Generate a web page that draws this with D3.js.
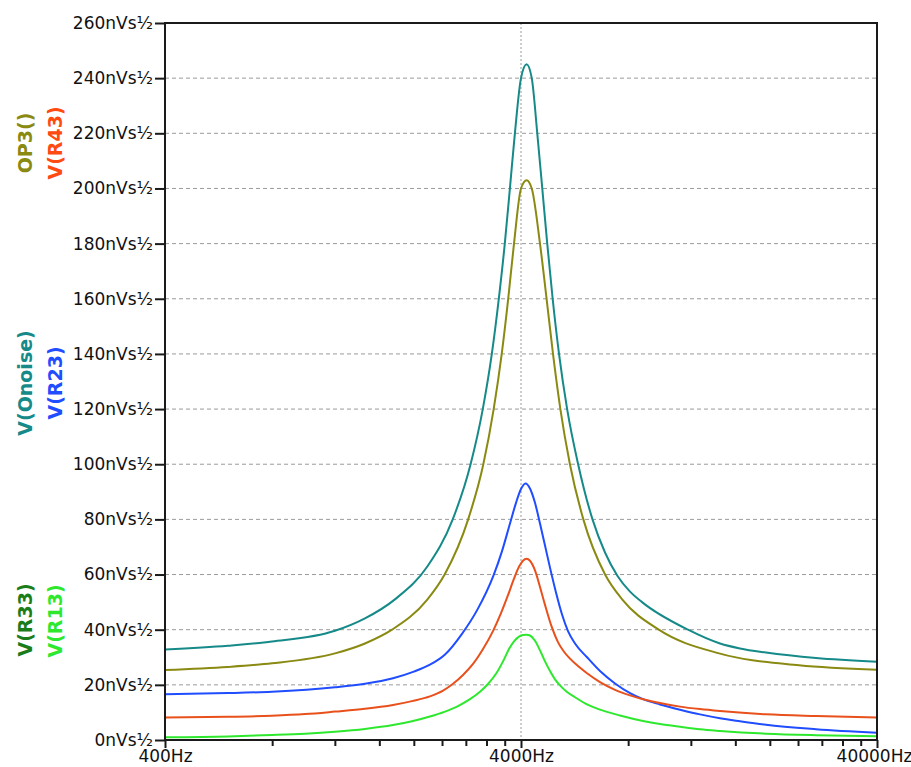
<!DOCTYPE html>
<html>
<head>
<meta charset="utf-8">
<script src="https://cdn.jsdelivr.net/npm/d3@7"></script>
<style>
  html, body { margin: 0; padding: 0; background: #fff; }
  svg { display: block; }
</style>
</head>
<body>
<svg id="chart" width="911" height="767"></svg>
<script>
// ---- data: frequency (Hz) / noise density (nV/√Hz) ----
const fOnoise = [400, 601, 799, 1201, 1458, 1770, 2185, 2572, 2887, 3124, 3312, 3465, 3602, 3723, 3845, 4000, 4148, 4288, 4444, 4590, 4740, 4909, 5115, 5391, 5788, 6352, 6887, 7468, 8097, 8751, 11780, 14490, 16490, 19508, 26960, 40000];
const vOnoise = [32.8, 34.2, 35.7, 39.6, 44.1, 51, 63, 80, 100, 120, 140, 160, 180, 200, 220, 240, 245, 240, 220, 200, 180, 160, 140, 120, 100, 80, 68, 59.5, 53.8, 50, 40, 35, 33.2, 31.7, 29.7, 28.4];

const fOP3 = [400, 601, 799, 1201, 1458, 1737, 2179, 2441, 2842, 3135, 3352, 3531, 3682, 3823, 4000, 4148, 4288, 4523, 4720, 4920, 5160, 5489, 5987, 6891, 7716, 9751, 14410, 24150, 40000];
const vOP3 = [25.4, 26.5, 27.8, 31.4, 35, 40, 50.8, 60, 80, 100, 120, 140, 160, 180, 200, 203, 200, 180, 160, 140, 120, 100, 80, 60, 50.8, 40, 31.4, 27.1, 25.5];

const fR23 = [400, 601, 799, 1201, 1458, 1748, 2000, 2220, 2447, 2731, 3009, 3345, 3538, 3725, 3873, 4000, 4118, 4239, 4379, 4523, 4672, 4825, 5016, 5216, 5421, 5673, 6131, 6668, 7348, 8097, 8808, 9829, 11189, 12733, 14490, 16490, 19508, 26960, 40000];
const vR23 = [16.6, 17.0, 17.5, 19.1, 20.4, 22.4, 24.8, 27.3, 31, 38.5, 47, 59.5, 68.5, 78.5, 86, 91, 93, 91.2, 86, 78.5, 70.5, 62.5, 53.5, 45.5, 39.5, 35, 30, 25, 20.5, 17.0, 14.8, 12.9, 11.0, 9.3, 7.9, 6.8, 5.5, 3.9, 2.6];

const fR43 = [400, 601, 799, 990, 1201, 1458, 1748, 1976, 2220, 2416, 2577, 2749, 2933, 3129, 3337, 3515, 3677, 3823, 3948, 4052, 4145, 4239, 4379, 4523, 4672, 4880, 5080, 5283, 5492, 5784, 6131, 6668, 7348, 8097, 8808, 9829, 11189, 12733, 14490, 19508, 26960, 40000];
const vR43 = [8.2, 8.4, 8.8, 9.4, 10.3, 11.3, 12.7, 14.1, 15.8, 17.9, 20.4, 23.6, 27.6, 33, 39.5, 46, 52.5, 58.5, 62.8, 65, 65.7, 65, 61.5, 55.5, 49, 41, 35.5, 32, 29.5, 26.8, 24.2, 21, 18.2, 16.2, 14.8, 13.4, 12.1, 11.2, 10.5, 9.3, 8.7, 8.2];

const fR13 = [400, 601, 799, 990, 1201, 1458, 1748, 1976, 2220, 2447, 2661, 2876, 3068, 3231, 3403, 3561, 3701, 3823, 3948, 4052, 4145, 4239, 4379, 4523, 4672, 4825, 4984, 5147, 5387, 5673, 6131, 6668, 7588, 8808, 9829, 11189, 12733, 14490, 19508, 26960, 40000];
const vR13 = [1.0, 1.3, 1.8, 2.3, 3.0, 4.0, 5.4, 6.8, 8.5, 10.3, 12.3, 14.8, 17.5, 20.3, 24, 28.5, 33, 35.8, 37.5, 38.1, 38.2, 37.9, 36, 32.5, 28.5, 25, 22, 19.8, 17.4, 15.5, 12.9, 11.0, 8.9, 6.9, 5.8, 4.8, 3.9, 3.3, 2.3, 1.75, 1.4];

const seriesFreqs  = [fOnoise, fOP3, fR23, fR43, fR13];
const seriesValues = [vOnoise, vOP3, vR23, vR43, vR13];
const seriesColors = ["#158a88", "#8a8a12", "#1f4dff", "#e8501c", "#2ee82e"];

const yTicks = [0, 20, 40, 60, 80, 100, 120, 140, 160, 180, 200, 220, 240, 260];
const xMajorTicks = [400, 4000, 40000];
const xMinorTicks = [800, 1200, 1600, 2000, 2400, 2800, 3200, 3600, 8000, 12000, 16000, 20000, 24000, 28000, 32000, 36000];

// legend labels (rotated), two columns
const legendLabels = [
  { text: "OP3()",     color: "#8a8a12", col: 0, cy: 143 },
  { text: "V(R43)",    color: "#ff4a12", col: 1, cy: 143 },
  { text: "V(Onoise)", color: "#158a88", col: 0, cy: 383 },
  { text: "V(R23)",    color: "#1f4dff", col: 1, cy: 383 },
  { text: "V(R33)",    color: "#1a7d1a", col: 0, cy: 620 },
  { text: "V(R13)",    color: "#2ee82e", col: 1, cy: 621 }
];

// ---- layout ----
const L = 165, R = 877, T = 23, B = 740;
const svg = d3.select("#chart");

const x = d3.scaleLog().domain([400, 40000]).range([L, R]);
const y = d3.scaleLinear().domain([0, 260]).range([B, T]);

// gridlines
svg.append("g").selectAll("line").data(yTicks.filter(d => d > 0 && d < 260)).join("line")
  .attr("x1", L).attr("x2", R)
  .attr("y1", d => y(d)).attr("y2", d => y(d))
  .attr("stroke", "#9a9a9a").attr("stroke-width", 1).attr("stroke-dasharray", "4,3");

svg.append("line")
  .attr("x1", x(4000)).attr("x2", x(4000)).attr("y1", T).attr("y2", B)
  .attr("stroke", "#9a9a9a").attr("stroke-width", 1).attr("stroke-dasharray", "2,2");

// curves
const line = d3.line()
  .x(d => x(d[0]))
  .y(d => y(d[1]))
  .curve(d3.curveMonotoneX);

svg.append("g").selectAll("path")
  .data(seriesValues.map((vals, i) => vals.map((v, j) => [seriesFreqs[i][j], v])))
  .join("path")
  .attr("d", d => line(d))
  .attr("fill", "none")
  .attr("stroke", (d, i) => seriesColors[i])
  .attr("stroke-width", 2)
  .attr("stroke-linejoin", "round");

// frame
svg.append("rect")
  .attr("x", L).attr("y", T).attr("width", R - L).attr("height", B - T)
  .attr("fill", "none").attr("stroke", "#1a1a1a").attr("stroke-width", 2);

// y axis
const yAxis = d3.axisLeft(y).tickValues(yTicks).tickSize(10).tickPadding(2)
  .tickFormat(d => d + "nVs\u00BD");
const gy = svg.append("g").attr("transform", `translate(${L},0)`).call(yAxis);
gy.select(".domain").remove();
gy.selectAll("line").attr("stroke", "#1a1a1a").attr("stroke-width", 2);
gy.selectAll("text").attr("font-family", "DejaVu Sans, sans-serif").attr("font-size", 17).attr("fill", "#111");

// x axis
const xAxis = d3.axisBottom(x).tickValues(xMajorTicks).tickSize(8).tickPadding(2)
  .tickFormat(d => d + "Hz");
const gx = svg.append("g").attr("transform", `translate(0,${B})`).call(xAxis);
gx.select(".domain").remove();
gx.selectAll("line").attr("stroke", "#1a1a1a").attr("stroke-width", 2);
gx.selectAll("text").attr("font-family", "DejaVu Sans, sans-serif").attr("font-size", 17).attr("fill", "#111")
  .attr("dx", d => d === 40000 ? -3 : 0);

const xMinor = d3.axisBottom(x).tickValues(xMinorTicks).tickSize(6).tickFormat("");
const gxm = svg.append("g").attr("transform", `translate(0,${B})`).call(xMinor);
gxm.select(".domain").remove();
gxm.selectAll("line").attr("stroke", "#1a1a1a").attr("stroke-width", 2);

// legend labels
svg.append("g").selectAll("text").data(legendLabels).join("text")
  .attr("transform", d => `translate(${d.col === 0 ? 32 : 62},${d.cy}) rotate(-90)`)
  .attr("text-anchor", "middle")
  .attr("font-family", "DejaVu Sans, sans-serif")
  .attr("font-weight", "bold")
  .attr("font-size", 19)
  .attr("fill", d => d.color)
  .text(d => d.text);
</script>
</body>
</html>
